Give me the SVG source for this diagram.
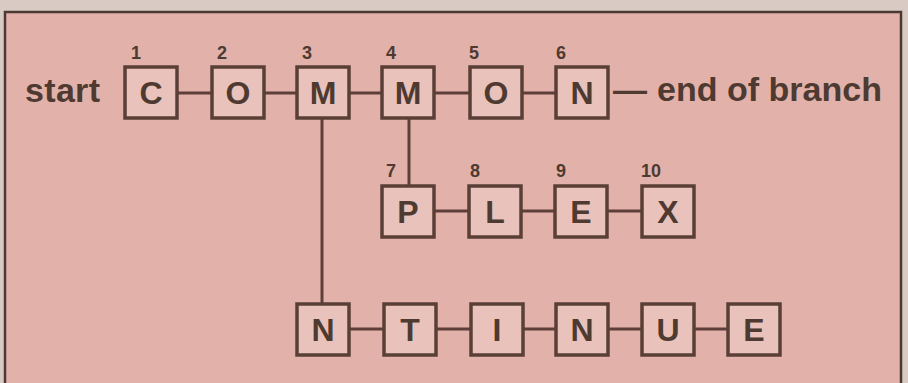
<svg xmlns="http://www.w3.org/2000/svg" width="908" height="383" viewBox="0 0 908 383">
<style>
.bx{fill:#e8c2bb;stroke:#5a3f37;stroke-width:3.5}
.lt{font-family:"Liberation Sans",Arial,sans-serif;font-weight:bold;font-size:32px;fill:#4e3a31;text-anchor:middle}
.num{font-family:"Liberation Sans",Arial,sans-serif;font-size:18px;font-weight:bold;fill:#4e3a31}
.lbl{font-family:"Liberation Sans",Arial,sans-serif;font-weight:bold;font-size:34px;fill:#4e3a31}
.cn line{stroke:#5e3e38;stroke-width:3}
</style>
<rect x="0" y="0" width="908" height="383" fill="#d9cbc3"/>
<rect x="5" y="12" width="896" height="380" fill="#e2b1aa" stroke="#4a3a33" stroke-width="2.5"/>
<g class="cn">
<line x1="177" y1="93" x2="212" y2="93"/>
<line x1="264" y1="93" x2="297" y2="93"/>
<line x1="349" y1="93" x2="382" y2="93"/>
<line x1="434" y1="93" x2="470" y2="93"/>
<line x1="522" y1="93" x2="556" y2="93"/>
<line x1="409" y1="118" x2="409" y2="186"/>
<line x1="322" y1="118" x2="322" y2="304"/>
<line x1="434" y1="211" x2="469" y2="211"/>
<line x1="521" y1="211" x2="555" y2="211"/>
<line x1="607" y1="211" x2="642" y2="211"/>
<line x1="349" y1="329" x2="384" y2="329"/>
<line x1="436" y1="329" x2="471" y2="329"/>
<line x1="523" y1="329" x2="556" y2="329"/>
<line x1="608" y1="329" x2="642" y2="329"/>
<line x1="694" y1="329" x2="728" y2="329"/>
</g>
<text class="lbl" x="25" y="102" textLength="75">start</text>
<text class="lbl" x="613" y="101">— <tspan x="657" textLength="225">end of branch</tspan></text>
<g id="n1"><rect class="bx" x="125" y="67" width="52" height="51"/><text class="lt" x="151" y="104">C</text><text class="num" x="131" y="59">1</text></g>
<g id="n2"><rect class="bx" x="212" y="67" width="52" height="51"/><text class="lt" x="238" y="104">O</text><text class="num" x="217" y="59">2</text></g>
<g id="n3"><rect class="bx" x="297" y="67" width="52" height="51"/><text class="lt" x="323" y="104">M</text><text class="num" x="302" y="59">3</text></g>
<g id="n4"><rect class="bx" x="382" y="67" width="52" height="51"/><text class="lt" x="408" y="104">M</text><text class="num" x="386" y="59">4</text></g>
<g id="n5"><rect class="bx" x="470" y="67" width="52" height="51"/><text class="lt" x="496" y="104">O</text><text class="num" x="469" y="59">5</text></g>
<g id="n6"><rect class="bx" x="556" y="67" width="52" height="51"/><text class="lt" x="582" y="104">N</text><text class="num" x="556" y="59">6</text></g>
<g id="n7"><rect class="bx" x="382" y="186" width="52" height="51"/><text class="lt" x="408" y="223">P</text><text class="num" x="386" y="177">7</text></g>
<g id="n8"><rect class="bx" x="469" y="186" width="52" height="51"/><text class="lt" x="495" y="223">L</text><text class="num" x="470" y="177">8</text></g>
<g id="n9"><rect class="bx" x="555" y="186" width="52" height="51"/><text class="lt" x="581" y="223">E</text><text class="num" x="556" y="177">9</text></g>
<g id="n10"><rect class="bx" x="642" y="186" width="52" height="51"/><text class="lt" x="668" y="223">X</text><text class="num" x="641" y="177">10</text></g>
<g id="n11"><rect class="bx" x="297" y="304" width="52" height="51"/><text class="lt" x="323" y="341">N</text></g>
<g id="n12"><rect class="bx" x="384" y="304" width="52" height="51"/><text class="lt" x="410" y="341">T</text></g>
<g id="n13"><rect class="bx" x="471" y="304" width="52" height="51"/><text class="lt" x="497" y="341">I</text></g>
<g id="n14"><rect class="bx" x="556" y="304" width="52" height="51"/><text class="lt" x="582" y="341">N</text></g>
<g id="n15"><rect class="bx" x="642" y="304" width="52" height="51"/><text class="lt" x="668" y="341">U</text></g>
<g id="n16"><rect class="bx" x="728" y="304" width="52" height="51"/><text class="lt" x="754" y="341">E</text></g>
</svg>
